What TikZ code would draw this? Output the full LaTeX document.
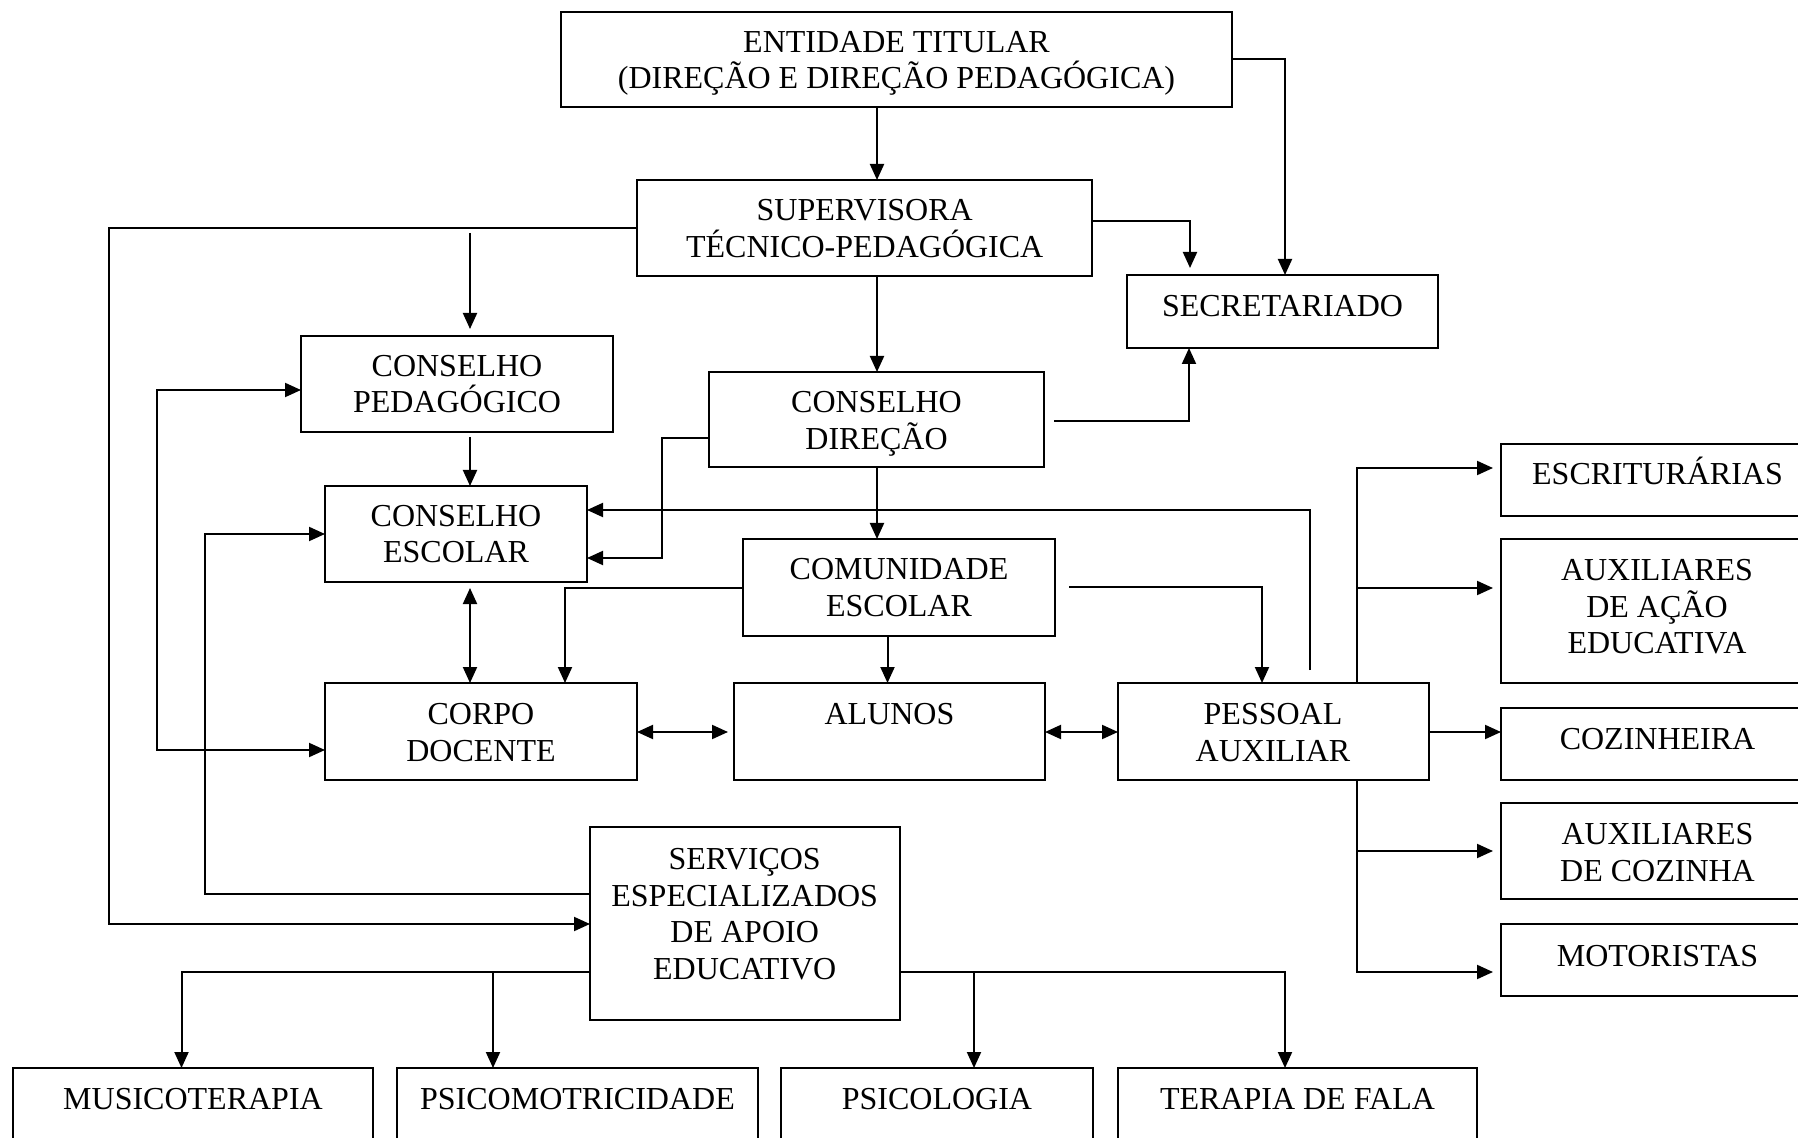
\documentclass[tikz,border=0pt]{standalone}
\usepackage{fontspec}
\setmainfont{Liberation Serif}
\usetikzlibrary{arrows.meta}
\tikzset{
  box/.style={draw, rectangle, line width=1pt, inner sep=0pt, outer sep=0pt},
  txt/.style={inner sep=0pt, outer sep=0pt, align=center, font=\fontsize{16}{18.35}\selectfont},
  conn/.style={line width=1pt},
  arr/.style={conn, -{Triangle[length=8pt,width=7pt]}},
  darr/.style={conn, {Triangle[length=8pt,width=7pt]}-{Triangle[length=8pt,width=7pt]}},
}
\newcommand\bx[5]{\node[box, minimum width={(#4-#2)*0.5pt}, minimum height={(#5-#3)*0.5pt}] (#1) at ({(#2+#4)/2},{(#3+#5)/2}) {};}
\begin{document}
\begin{tikzpicture}[x=0.5pt,y=-0.5pt]
\useasboundingbox (0,0) rectangle (1798,1138);
\fill[white] (0,0) rectangle (1798,1138);
\clip (0,0) rectangle (1798,1138);
% boxes
\bx{ent}{561}{12}{1232}{107}
\bx{sup}{637}{180}{1092}{276}
\bx{sec}{1127}{275}{1438}{348}
\bx{cped}{301}{336}{613}{432}
\bx{cdir}{709}{372}{1044}{467}
\bx{cesc}{325}{486}{587}{582}
\bx{com}{743}{539}{1055}{636}
\bx{corpo}{325}{683}{637}{780}
\bx{alunos}{734}{683}{1045}{780}
\bx{pes}{1118}{683}{1429}{780}
\bx{escr}{1501}{444}{1814}{516}
\bx{aae}{1501}{539}{1814}{683}
\bx{coz}{1501}{708}{1814}{780}
\bx{auxcoz}{1501}{803}{1814}{899}
\bx{mot}{1501}{924}{1814}{996}
\bx{serv}{590}{827}{900}{1020}
\bx{mus}{13}{1068}{373}{1160}
\bx{psimo}{397}{1068}{758}{1160}
\bx{psico}{781}{1068}{1093}{1160}
\bx{ter}{1118}{1068}{1477}{1160}
% free junction points
\coordinate (j-ped) at (470,228);
\coordinate (j-psimo) at (493,972);
\coordinate (j-psico) at (974,972);
% texts
\node[txt, anchor=north] (t-ent) at (896.5,31) {ENTIDADE TITULAR\\(DIREÇÃO E DIREÇÃO PEDAGÓGICA)};
\node[txt, anchor=north] (t-sup) at (864.7,199.5) {SUPERVISORA\\TÉCNICO-PEDAGÓGICA};
\node[txt, anchor=base] (t-sec) at (1282.5,317) {SECRETARIADO};
\node[txt, anchor=north] (t-cped) at (457,355) {CONSELHO\\PEDAGÓGICO};
\node[txt, anchor=north] (t-cdir) at (876.5,391.7) {CONSELHO\\DIREÇÃO};
\node[txt, anchor=north] (t-cesc) at (456,505) {CONSELHO\\ESCOLAR};
\node[txt, anchor=north] (t-com) at (899,558.3) {COMUNIDADE\\ESCOLAR};
\node[txt, anchor=north] (t-corpo) at (481,703.3) {CORPO\\DOCENTE};
\node[txt, anchor=base] (t-alunos) at (889.5,724.3) {ALUNOS};
\node[txt, anchor=north] (t-pes) at (1273,703.3) {PESSOAL\\AUXILIAR};
\node[txt, anchor=base] (t-escr) at (1657.5,485) {ESCRITURÁRIAS};
\node[txt, anchor=north] (t-aae) at (1657,559.3) {AUXILIARES\\DE AÇÃO\\EDUCATIVA};
\node[txt, anchor=base] (t-coz) at (1657.5,749.3) {COZINHEIRA};
\node[txt, anchor=north] (t-auxcoz) at (1657.5,823.3) {AUXILIARES\\DE COZINHA};
\node[txt, anchor=base] (t-mot) at (1657.5,966) {MOTORISTAS};
\node[txt, anchor=north] (t-serv) at (744.7,848.3) {SERVIÇOS\\ESPECIALIZADOS\\DE APOIO\\EDUCATIVO};
\node[txt, anchor=base] (t-mus) at (193,1109) {MUSICOTERAPIA};
\node[txt, anchor=base] (t-psimo) at (577.5,1109) {PSICOMOTRICIDADE};
\node[txt, anchor=base] (t-psico) at (937,1109) {PSICOLOGIA};
\node[txt, anchor=base] (t-ter) at (1297.5,1109) {TERAPIA DE FALA};
% connectors
\draw[arr] (ent.south -| 877,0) -- (sup.north -| 877,0);
\draw[arr] (sup.south -| 877,0) -- (cdir.north -| 877,0);
\draw[arr] (ent.east |- 0,59) -| (sec.north -| 1285,0);
\draw[arr, shorten >=3.5pt] (sup.east |- 0,221) -| (sec.north -| 1190,0);
\draw[arr, shorten <=5pt] (cdir.east |- 0,421) -| (sec.south -| 1189,0);
\draw[arr] (sup.west |- 0,228) -| (109,924) -- (serv.west |- 0,924);
\draw[arr, shorten <=2.5pt, shorten >=3.5pt] (j-ped) -- (cped.north -| j-ped);
\draw[arr, shorten <=2.5pt] (cped.south -| 470,0) -- (cesc.north -| 470,0);
\draw[darr] (cped.west |- 0,390) -| (157,750) -- (corpo.west |- 0,750);
\draw[arr] (serv.west |- 0,894) -| (205,534) -- (cesc.west |- 0,534);
\draw[arr] (cdir.west |- 0,438) -| (662,558) -- (cesc.east |- 0,558);
\draw[arr, shorten <=6.5pt] (pes.north -| 1309.5,0) -- (1309.5,510) -- (cesc.east |- 0,510);
\draw[arr] (cdir.south -| 877,0) -- (com.north -| 877,0);
\draw[arr] (com.west |- 0,588) -| (corpo.north -| 565,0);
\draw[arr] (com.south -| 887.5,0) -- (alunos.north -| 887.5,0);
\draw[arr, shorten <=7pt] (com.east |- 0,587) -| (pes.north -| 1262,0);
\draw[darr, shorten <=3pt] (cesc.south -| 470,0) -- (corpo.north -| 470,0);
\draw[darr, shorten >=3pt] (corpo.east |- 0,732) -- (alunos.west |- 0,732);
\draw[darr] (alunos.east |- 0,732) -- (pes.west |- 0,732);
\draw[arr, shorten >=4pt] (pes.north -| 1357,0) |- (escr.west |- 0,468);
\draw[arr, shorten >=4pt] (pes.north -| 1357,0) |- (aae.west |- 0,588);
\draw[arr] (pes.east |- 0,732) -- (coz.west |- 0,732);
\draw[arr, shorten >=4pt] (pes.south -| 1357,0) |- (auxcoz.west |- 0,851);
\draw[arr, shorten >=4pt] (pes.south -| 1357,0) |- (mot.west |- 0,972);
\draw[arr] (serv.west |- 0,972) -| (mus.north -| 181.5,0);
\draw[arr] (j-psimo) -- (psimo.north -| j-psimo);
\draw[arr] (serv.east |- 0,972) -| (ter.north -| 1285,0);
\draw[arr] (j-psico) -- (psico.north -| j-psico);
\end{tikzpicture}
\end{document}
